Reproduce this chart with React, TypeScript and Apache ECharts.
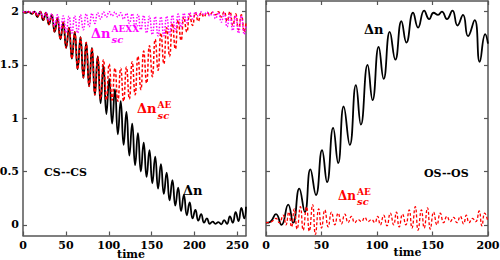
import { useEffect, useRef } from "react";
import * as echarts from "echarts";

// ---------- Left panel (cs--cs) ----------
const leftTime = [
  0, 3.4, 6.7, 10.1, 13.4, 16.8, 20.1, 23.5, 26.8, 30.2, 33.5, 36.9, 40.2, 43.6, 46.9, 50.3,
  53.6, 57, 60.3, 63.7, 67, 70.4, 73.7, 77.1, 80.4, 83.8, 87.1, 90.5, 93.8, 97.2, 100.5, 103.9,
  107.2, 110.6, 113.9, 117.3, 120.6, 124, 127.3, 130.7, 134, 137.4, 140.7, 144.1, 147.4, 150.8,
  154.1, 157.5, 160.8, 164.2, 167.5, 170.9, 174.2, 177.6, 180.9, 184.3, 187.6, 191, 194.3,
  197.7, 201, 204.4, 207.7, 211.1, 214.4, 217.8, 221.1, 224.5, 227.8, 231.2, 234.5, 237.9,
  241.2, 244.6, 247.9, 251.3, 254.6, 258, 260,
];
const leftDn = [
  2.0, 1.99, 2.0, 1.98, 2.0, 1.95, 2.0, 1.92, 1.99, 1.88, 1.97, 1.81, 1.94, 1.74, 1.9, 1.66,
  1.85, 1.56, 1.81, 1.46, 1.76, 1.38, 1.71, 1.3, 1.66, 1.22, 1.58, 1.14, 1.49, 1.04, 1.37, 0.95,
  1.27, 0.85, 1.16, 0.75, 1.06, 0.65, 0.95, 0.56, 0.86, 0.5, 0.77, 0.45, 0.7, 0.39, 0.64, 0.34,
  0.57, 0.29, 0.49, 0.23, 0.42, 0.18, 0.35, 0.13, 0.28, 0.09, 0.21, 0.06, 0.14, 0.04, 0.1, 0.02,
  0.06, 0.01, 0.03, 0.01, 0.025, 0.005, 0.045, 0.01, 0.08, 0.02, 0.12, 0.035, 0.16, 0.06, 0.17,
];
const leftDnAE = [
  2.0, 1.99, 2.0, 1.98, 2.0, 1.95, 2.0, 1.92, 1.99, 1.88, 1.97, 1.81, 1.94, 1.74, 1.9, 1.66,
  1.85, 1.56, 1.81, 1.46, 1.76, 1.38, 1.71, 1.3, 1.66, 1.22, 1.58, 1.18, 1.55, 1.17, 1.51, 1.17,
  1.47, 1.16, 1.47, 1.16, 1.48, 1.18, 1.53, 1.22, 1.58, 1.27, 1.63, 1.33, 1.68, 1.39, 1.74, 1.45,
  1.8, 1.51, 1.85, 1.58, 1.89, 1.65, 1.92, 1.73, 1.95, 1.81, 1.97, 1.87, 1.99, 1.91, 1.99, 1.95,
  1.995, 1.97, 1.995, 1.97, 2.0, 1.95, 2.0, 1.91, 2.0, 1.87, 1.98, 1.83, 1.97, 1.81, 1.9,
];
const leftDnAEXX = [
  2.0, 2.0, 2.0, 1.995, 2.0, 1.975, 1.995, 1.95, 1.99, 1.915, 1.98, 1.87, 1.97, 1.83, 1.96, 1.805,
  1.957, 1.8, 1.96, 1.8, 1.97, 1.83, 1.98, 1.86, 1.985, 1.89, 1.99, 1.93, 1.997, 1.95, 2.0, 1.96,
  1.996, 1.95, 1.99, 1.93, 1.984, 1.89, 1.98, 1.86, 1.974, 1.83, 1.965, 1.8, 1.958, 1.785, 1.953,
  1.773, 1.951, 1.774, 1.958, 1.784, 1.967, 1.814, 1.977, 1.853, 1.986, 1.895, 1.992, 1.932,
  1.996, 1.958, 1.997, 1.971, 1.996, 1.959, 1.994, 1.935, 1.991, 1.902, 1.984, 1.858, 1.973,
  1.823, 1.963, 1.798, 1.959, 1.788, 1.87,
];

// ---------- Right panel (os--os) ----------
const rightDnTime = [
  0, 4, 9, 14, 20, 24.5, 30, 35, 40, 45, 50.5, 55, 60.5, 65, 70, 75.5, 81, 85.5, 91.5, 96, 101.5,
  106, 111.5, 116.5, 122, 126.5, 132.5, 137, 142.5, 147, 151, 155, 158.5, 163, 168, 172.5, 177.5,
  182, 188, 192.5, 197.5, 200,
];
const rightDn = [
  0.02, 0.03, 0.1, 0.0, 0.19, 0.02, 0.34, 0.12, 0.52, 0.28, 0.7, 0.4, 0.91, 0.58, 1.11, 0.75,
  1.31, 0.94, 1.5, 1.17, 1.67, 1.37, 1.81, 1.55, 1.91, 1.71, 1.99, 1.85, 2.01, 1.93, 1.99, 1.97,
  2.0, 1.93, 2.01, 1.87, 1.97, 1.77, 1.92, 1.53, 1.79, 1.7,
];
const rightAETime = [
  0, 5, 9, 12, 15.5, 18, 20.5, 23, 25.5, 28, 31, 33.5, 36.5, 39, 42, 44.5, 47.5, 50, 53, 56, 59,
  62, 65, 68, 71, 74, 77, 80, 83, 86, 89, 92, 95, 98, 100.5, 103, 106, 109, 112, 115, 117.5, 120,
  123, 126, 129, 131.5, 134.5, 137, 140, 142.5, 145.5, 148, 151, 154, 157, 160, 163, 166, 169,
  172, 175, 178, 180.5, 183, 186, 189, 192, 194.5, 197, 200,
];
const rightAE = [
  0.02, 0.03, 0.06, 0.02, 0.09, 0.0, 0.12, -0.02, 0.15, -0.04, 0.17, -0.05, 0.17, -0.06, 0.19,
  -0.09, 0.15, -0.03, 0.14, -0.02, 0.12, 0.0, 0.11, 0.01, 0.1, 0.02, 0.08, 0.02, 0.05, 0.03, 0.07,
  0.03, 0.05, 0.02, 0.08, 0.0, 0.09, -0.01, 0.11, 0.0, 0.12, -0.02, 0.1, 0.0, 0.14, -0.03, 0.17,
  -0.05, 0.14, -0.03, 0.16, -0.04, 0.12, 0.0, 0.11, 0.02, 0.08, 0.03, 0.07, 0.02, 0.08, 0.01,
  0.09, 0.02, 0.06, 0.03, 0.13, -0.01, 0.11, 0.03,
];

const yTicks = [0, 0.5, 1, 1.5, 2];
const leftXTicks = [0, 50, 100, 150, 200, 250];
const rightXTicks = [0, 50, 100, 150, 200];

const FONT = "DejaVu Serif";
const AXIS_COLOR = "#555";

function pairs(xs: number[], ys: number[]) {
  return xs.map((x, i) => [x, ys[i]]);
}

function xAxis(grid: number, max: number, ticks: number[], pos: "top" | "bottom", labels: boolean) {
  return {
    type: "value",
    gridIndex: grid,
    position: pos,
    min: 0,
    max,
    interval: 50,
    axisLine: { show: true, onZero: false, lineStyle: { color: AXIS_COLOR, width: 1.5 } },
    axisTick: { show: true, inside: true, length: 4, customValues: ticks, lineStyle: { color: AXIS_COLOR, width: 1.2 } },
    axisLabel: {
      show: labels,
      customValues: ticks,
      margin: 4,
      color: "#000",
      fontFamily: FONT,
      fontWeight: "bold",
      fontSize: 11,
    },
    splitLine: { show: false },
  };
}

function yAxis(grid: number, pos: "left" | "right", labels: boolean) {
  return {
    type: "value",
    gridIndex: grid,
    position: pos,
    min: -0.1,
    max: 2.1,
    axisLine: { show: true, onZero: false, lineStyle: { color: AXIS_COLOR, width: 1.5 } },
    axisTick: { show: true, inside: true, length: 4, customValues: yTicks, lineStyle: { color: AXIS_COLOR, width: 1.2 } },
    axisLabel: {
      show: labels,
      customValues: yTicks,
      margin: 4,
      color: "#000",
      fontFamily: FONT,
      fontWeight: "bold",
      fontSize: 11,
    },
    splitLine: { show: false },
  };
}

function txt(x: number, y: number, text: string, color: string, size: number, italic = false, align = "left") {
  return {
    type: "text",
    x,
    y,
    z: 100,
    style: {
      text,
      fill: color,
      fontFamily: FONT,
      fontWeight: "bold",
      fontStyle: italic ? "italic" : "normal",
      fontSize: size,
      align,
      verticalAlign: "middle",
    },
  };
}

export default function App() {
  const ref = useRef<HTMLDivElement>(null);
  useEffect(() => {
    const chart = echarts.init(ref.current!, null, { renderer: "svg" });
    const option = {
      animation: false,
      backgroundColor: "#fff",
      textStyle: { fontFamily: FONT },
      grid: [
        { left: 23, top: 1, width: 223, height: 234.5, outerBoundsMode: "none", containLabel: false },
        { left: 266, top: 1, width: 222, height: 234.5, outerBoundsMode: "none", containLabel: false },
      ],
      xAxis: [
        xAxis(0, 260, leftXTicks, "bottom", true),
        xAxis(0, 260, leftXTicks, "top", false),
        xAxis(1, 200, rightXTicks, "bottom", true),
        xAxis(1, 200, rightXTicks, "top", false),
      ],
      yAxis: [
        yAxis(0, "left", true),
        yAxis(0, "right", false),
        yAxis(1, "left", false),
        yAxis(1, "right", false),
      ],
      series: [
        {
          type: "line",
          xAxisIndex: 0,
          yAxisIndex: 0,
          data: pairs(leftTime, leftDn),
          showSymbol: false,
          smooth: 0.5,
          lineStyle: { color: "#000", width: 1.8 },
          z: 2,
        },
        {
          type: "line",
          xAxisIndex: 0,
          yAxisIndex: 0,
          data: pairs(leftTime, leftDnAE),
          showSymbol: false,
          smooth: 0.5,
          lineStyle: { color: "#ff0000", width: 1.5, type: [3, 2] },
          z: 3,
        },
        {
          type: "line",
          xAxisIndex: 0,
          yAxisIndex: 0,
          data: pairs(leftTime, leftDnAEXX),
          showSymbol: false,
          smooth: 0.5,
          lineStyle: { color: "#ff00ff", width: 1.5, type: [1.5, 1.5] },
          z: 4,
        },
        {
          type: "line",
          xAxisIndex: 2,
          yAxisIndex: 2,
          data: pairs(rightDnTime, rightDn),
          showSymbol: false,
          smooth: 0.5,
          lineStyle: { color: "#000", width: 1.8 },
          z: 2,
        },
        {
          type: "line",
          xAxisIndex: 2,
          yAxisIndex: 2,
          data: pairs(rightAETime, rightAE),
          showSymbol: false,
          smooth: 0.5,
          lineStyle: { color: "#ff0000", width: 1.3, type: [3, 2] },
          z: 3,
        },
      ],
      graphic: [
        // left panel annotations
        txt(91, 33, "Δn", "#ff00ff", 13),
        txt(111.5, 29, "AEXX", "#ff00ff", 9),
        txt(111.5, 39.5, "sc", "#ff00ff", 10, true),
        txt(137, 108.5, "Δn", "#ff0000", 13),
        txt(157.5, 104.5, "AE", "#ff0000", 9),
        txt(157.5, 115, "sc", "#ff0000", 10, true),
        txt(183, 190, "Δn", "#000", 13),
        txt(44, 172.5, "CS--CS", "#000", 11),
        txt(131, 254, "time", "#000", 11, false, "center"),
        // right panel annotations
        txt(364, 29, "Δn", "#000", 13),
        txt(424, 173.5, "OS--OS", "#000", 11),
        txt(338, 196, "Δn", "#ff0000", 12),
        txt(357, 191.5, "AE", "#ff0000", 9),
        txt(357, 201.5, "sc", "#ff0000", 10, true),
        txt(407.5, 252, "time", "#000", 11, false, "center"),
      ],
    };
    chart.setOption(option as any);
    return () => chart.dispose();
  }, []);
  return (
    <div
      ref={ref}
      style={{ position: "absolute", left: 0, top: 0, width: 500, height: 260 }}
    />
  );
}
